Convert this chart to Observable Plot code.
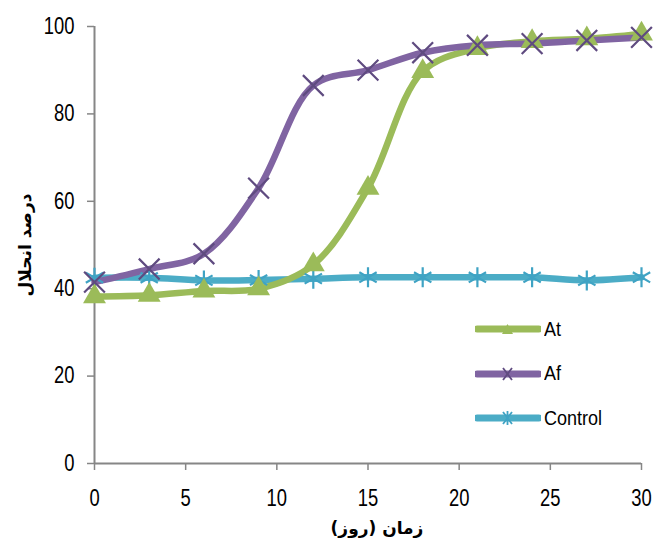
<!DOCTYPE html>
<html><head><meta charset="utf-8">
<script src="https://cdn.jsdelivr.net/npm/d3@7"></script>
<script src="https://cdn.jsdelivr.net/npm/@observablehq/plot@0.6"></script>
<style>
body{margin:0;background:#fff;}
#wrap{position:relative;width:667px;height:541px;}
#legend{position:absolute;left:475px;top:307px;font-family:"Liberation Sans",sans-serif;font-size:20px;color:#000;}
#legend .item{display:flex;align-items:center;height:44.5px;}
#legend svg{margin-right:3px;}
#legend span{display:inline-block;transform:scaleX(0.9);transform-origin:left center;}
</style></head>
<body><div id="wrap"><div id="legend"></div></div>
<script>
const days = [0, 3, 6, 9, 12, 15, 18, 21, 24, 27, 30];
const atValues = [38.2, 38.5, 39.5, 40, 45.5, 63, 89.7, 95, 96.6, 97.2, 98.3];
const afValues = [41.5, 44.5, 48, 63, 86.5, 90, 94, 95.7, 96.1, 96.8, 97.5];
const controlValues = [42.5, 42.5, 41.9, 42, 42.3, 42.6, 42.6, 42.6, 42.6, 41.9, 42.6];
const seriesNames = ["At", "Af", "Control"];
const xTicks = [0, 5, 10, 15, 20, 25, 30];
const yTicks = [0, 20, 40, 60, 80, 100];
const xTitle = "زمان (روز)";
const yTitle = "درصد انحلال";

const colors = {At: "#9bbb59", Af: "#8064a2", Control: "#4bacc6"};
const markColors = {At: "#9bbb59", Af: "#5f4b80", Control: "#3fa3c4"};
const symbols = {At: "triangle", Af: "times", Control: "asterisk"};

const valueSets = {At: atValues, Af: afValues, Control: controlValues};
const data = seriesNames.flatMap(s => days.map((d, i) => ({series: s, day: d, value: valueSets[s][i]})));

const font = '"Liberation Sans",sans-serif';
const grey = "#868686";

const lineMarks = [];
const dotMarks = [];
for (const s of ["Control", "At", "Af"]) {
  const sub = data.filter(d => d.series === s);
  lineMarks.push(Plot.line(sub, {x: "day", y: "value", stroke: colors[s], strokeWidth: 6.5, curve: "catmull-rom"}));
}
for (const s of ["Control", "At", "Af"]) {
  const sub = data.filter(d => d.series === s);
  if (s === "At") {
    dotMarks.push(Plot.dot(sub, {x: "day", y: "value", symbol: "triangle", fill: markColors[s], r: 8.5}));
  } else {
    dotMarks.push(Plot.dot(sub, {x: "day", y: "value", symbol: symbols[s], stroke: markColors[s], strokeWidth: 2.2, r: 9.5}));
  }
}

const chart = Plot.plot({
  width: 667, height: 541,
  marginLeft: 94, marginRight: 26, marginTop: 26, marginBottom: 78,
  style: {fontFamily: font, fontSize: "23px", color: "#000", background: "#fff"},
  x: {domain: [0, 30]},
  y: {domain: [0, 100]},
  marks: [
    Plot.axisX({ticks: xTicks, tickSize: 7, tickPadding: 19, stroke: grey, strokeWidth: 1.5, fill: "#000", fontSize: 23, label: null}),
    Plot.axisY({ticks: yTicks, tickSize: 7, tickPadding: 13, stroke: grey, strokeWidth: 1.5, fill: "#000", fontSize: 23, label: null}),
    Plot.ruleX([0], {stroke: grey, strokeWidth: 2}),
    Plot.ruleY([0], {stroke: grey, strokeWidth: 2}),
    ...lineMarks,
    ...dotMarks,
    Plot.text([xTitle], {frameAnchor: "bottom", textAnchor: "middle", dx: 9, dy: 70, fontFamily: "DejaVu Sans", fontWeight: "bold", fontSize: 17, fill: "#000"}),
    Plot.text([yTitle], {frameAnchor: "left", textAnchor: "middle", dx: -69, rotate: -90, fontFamily: "DejaVu Sans", fontWeight: "bold", fontSize: 17, fill: "#000"})
  ]
});
document.getElementById("wrap").prepend(chart);

// narrow the tick label glyphs (condensed look of the original)
d3.select(chart)
  .selectAll('g[aria-label="x-axis tick label"] text, g[aria-label="y-axis tick label"] text')
  .attr("transform", function() { return (this.getAttribute("transform") || "") + " scale(0.8,1)"; });

// legend
const leg = document.getElementById("legend");
for (const s of seriesNames) {
  const item = document.createElement("div");
  item.className = "item";
  let marker = "";
  if (s === "At") marker = `<path d="M32.5,4 L38,14 L27,14 Z" fill="${markColors[s]}"/>`;
  else if (s === "Af") marker = `<path d="M28,3 L37,15 M37,3 L28,15" stroke="${markColors[s]}" stroke-width="1.8"/>`;
  else marker = `<path d="M28,3 L37,15 M37,3 L28,15 M32.5,2 L32.5,16" stroke="${markColors[s]}" stroke-width="1.8"/>`;
  item.innerHTML = `<svg width="66" height="18"><line x1="2" y1="9" x2="64" y2="9" stroke="${colors[s]}" stroke-width="7" stroke-linecap="round"/>${marker}</svg><span>${s}</span>`;
  leg.appendChild(item);
}
</script></body></html>
